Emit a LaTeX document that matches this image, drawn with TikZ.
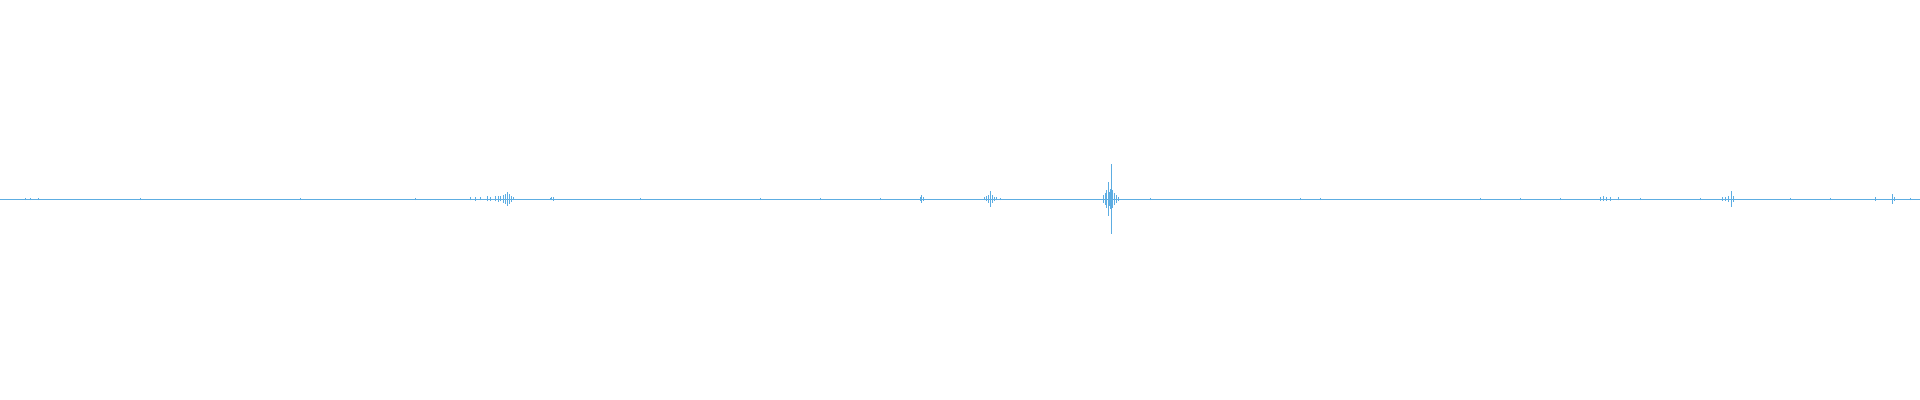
\documentclass[tikz,border=0pt]{standalone}
\definecolor{wave}{HTML}{5DADE2}
\tikzset{sample/.style={wave, line width=0.9pt}}
\begin{document}
\begin{tikzpicture}[x=0.05cm,y=0.05cm]
    \useasboundingbox (0,0) rectangle (1920,400);

    % baseline
    \coordinate (start) at (0,201);
    \coordinate (stop) at (1920,201);
    \draw [sample] (start) -- (stop);

    % small ticks along the line
    \foreach \x in {25,30,38,140,300,415,470,550,640,760,820,880,1000,1150,1300,1320,1480,1520,1560,1640,1700,1790,1830,1910}
        \draw [sample] (\x,199.8) -- (\x,202.2);

    % bursts: position / half height
    \foreach \x/\h in {470/1.5,475/2,480/1.5,487/2.5,490/2,495/2.5,498/3,500/2.5,503/4,505/5,507/7,509/5,511/3,513/1.5,
                       551/1.5,553/2,
                       920/2,921/4,923/2,
                       984/1.5,986/2.5,988/4,990/8,992/4,994/2,996/1.5,
                       1103/4,1105/6,1106/9,1108/17,1109/7,1110/10,1111/35,1112/9,1114/6,1116/4,1118/2,
                       1600/2,1603/2.5,1606/2,1610/2,1618/1.5,
                       1722/2,1725/2,1728/3,1731/8,1733/3,
                       1875/2,1892/5,1894/2}
        \draw [sample] (\x,201-\h) -- (\x,201+\h);
\end{tikzpicture}
\end{document}
